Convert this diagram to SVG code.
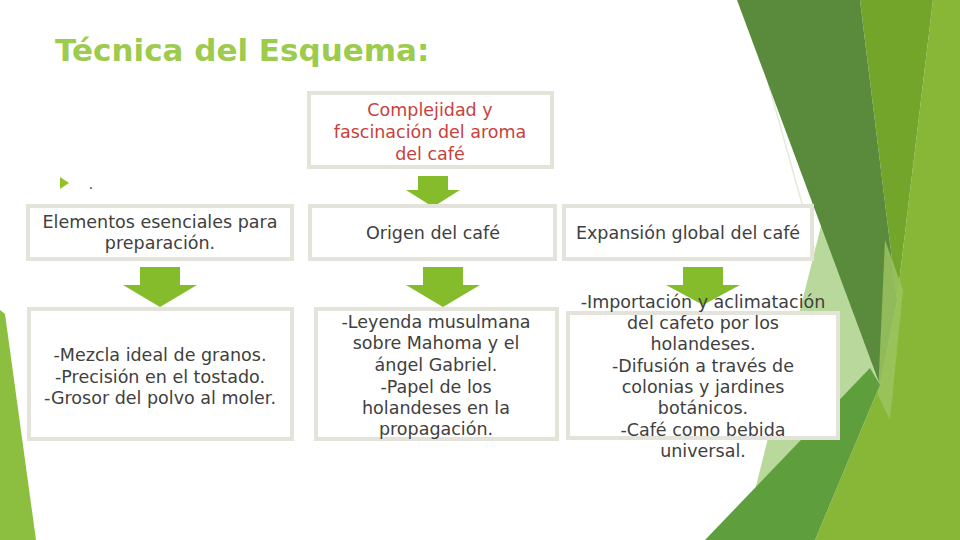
<svg xmlns="http://www.w3.org/2000/svg" width="960" height="540" viewBox="0 0 960 540">
  <style>
    .box { fill: #ffffff; stroke: #e3e3da; stroke-width: 4; }
    .txt { font-family: "DejaVu Sans", "Liberation Sans", sans-serif; font-size: 17.5px; fill: #404040; text-anchor: middle; }
    .red { fill: #c8413a; }
    .title { font-family: "DejaVu Sans", "Liberation Sans", sans-serif; font-size: 31px; font-weight: bold; fill: #9ccb4e; }
    .arrow { fill: #84bc2b; }
  </style>
  <rect width="960" height="540" fill="#ffffff"/>

  <!-- background decoration -->
  <g id="background">
    <line x1="745" y1="0" x2="815" y2="250" stroke="#e2ecd6" stroke-width="1.5"/>
    <polygon points="825,210 880,385 750,510" fill="#b9d99c"/>
    <polygon points="933,0 960,0 960,540 815,540 880,385 897,300" fill="#88b637"/>
    <polygon points="860,0 933,0 897,300" fill="#74a52b"/>
    <polygon points="737,0 860,0 897,300 880,385" fill="#5a8b3d"/>
    <polygon points="885,240 903,290 890,420 878,395" fill="#9fc663" opacity="0.8"/>
    <polygon points="705,540 815,540 880,385 870,368" fill="#5e9e3c"/>
    <polygon points="0,310 5,314 36,540 0,540" fill="#8cbf3f"/>
  </g>

  <text class="title" x="55" y="61">Técnica del Esquema:</text>

  <g id="bullet">
    <polygon points="60,177 69,183 60,189" fill="#90c226"/>
    <text class="txt" x="91" y="189" style="font-size:14px">.</text>
  </g>

  <g id="connectors">
    <path class="arrow" d="M418,176 H448 V190 H460 L433,207 L406,190 H418 Z"/>
    <path class="arrow" d="M140,267 H180 V285 H197 L160,307 L123,285 H140 Z"/>
    <path class="arrow" d="M423,267 H463 V285 H480 L443,307 L406,285 H423 Z"/>
    <path class="arrow" d="M683,267 H723 V285 H740 L703,305 L666,285 H683 Z"/>
  </g>

  <g id="node-top">
    <rect class="box" x="309" y="93" width="243" height="74"/>
    <text class="txt red" x="430" y="116">Complejidad y</text>
    <text class="txt red" x="430" y="138">fascinación del aroma</text>
    <text class="txt red" x="430" y="160">del café</text>
  </g>

  <g id="node-elementos">
    <rect class="box" x="28" y="206" width="264" height="53"/>
    <text class="txt" x="160" y="228">Elementos esenciales para</text>
    <text class="txt" x="160" y="249">preparación.</text>
  </g>

  <g id="node-origen">
    <rect class="box" x="310" y="206" width="245" height="53"/>
    <text class="txt" x="433" y="239">Origen del café</text>
  </g>

  <g id="node-expansion">
    <rect class="box" x="564" y="206" width="248" height="53"/>
    <text class="txt" x="688" y="239">Expansión global del café</text>
  </g>

  <g id="node-elementos-detalle">
    <rect class="box" x="29" y="309" width="263" height="130"/>
    <text class="txt" x="160" y="361">-Mezcla ideal de granos.</text>
    <text class="txt" x="160" y="383">-Precisión en el tostado.</text>
    <text class="txt" x="160" y="404">-Grosor del polvo al moler.</text>
  </g>

  <g id="node-origen-detalle">
    <rect class="box" x="316" y="309" width="241" height="130"/>
    <text class="txt" x="436" y="328">-Leyenda musulmana</text>
    <text class="txt" x="436" y="349">sobre Mahoma y el</text>
    <text class="txt" x="436" y="371">ángel Gabriel.</text>
    <text class="txt" x="436" y="393">-Papel de los</text>
    <text class="txt" x="436" y="414">holandeses en la</text>
    <text class="txt" x="436" y="435">propagación.</text>
  </g>

  <g id="node-expansion-detalle">
    <rect class="box" x="568" y="313" width="270" height="125"/>
    <text class="txt" x="703" y="308">-Importación y aclimatación</text>
    <text class="txt" x="703" y="329">del cafeto por los</text>
    <text class="txt" x="703" y="350">holandeses.</text>
    <text class="txt" x="703" y="372">-Difusión a través de</text>
    <text class="txt" x="703" y="393">colonias y jardines</text>
    <text class="txt" x="703" y="414">botánicos.</text>
    <text class="txt" x="703" y="436">-Café como bebida</text>
    <text class="txt" x="703" y="457">universal.</text>
  </g>
</svg>
